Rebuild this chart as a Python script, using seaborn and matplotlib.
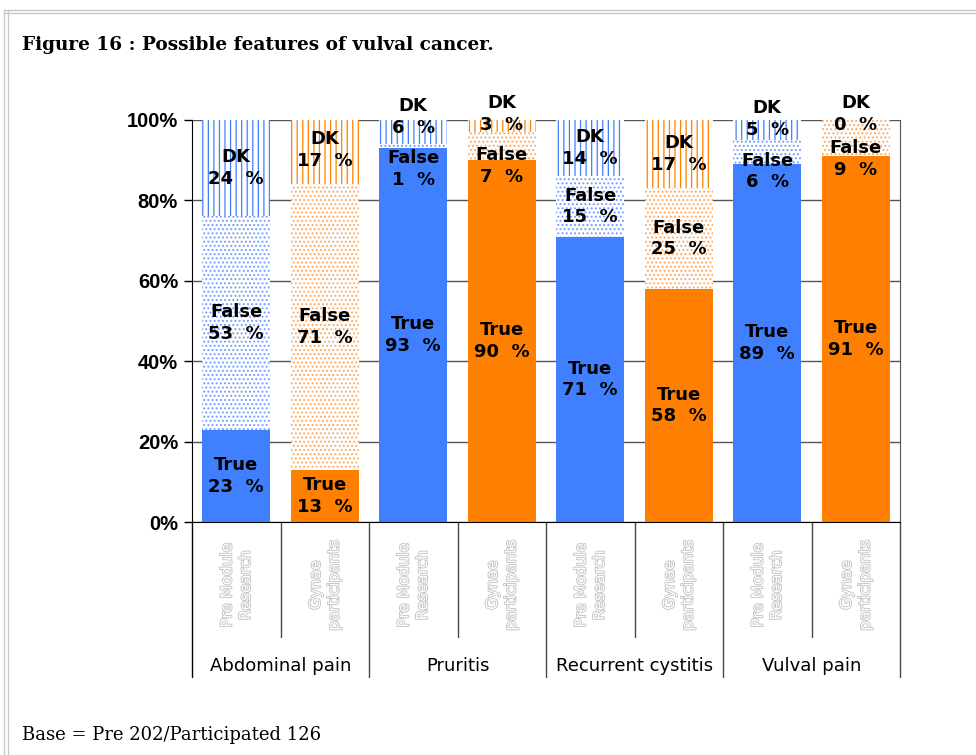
import numpy as np
import pandas as pd
import seaborn as sns
import matplotlib.pyplot as plt
import matplotlib.patheffects as pe
import matplotlib.transforms as mtransforms
from matplotlib.lines import Line2D

# Valores do gráfico
symptoms = ["Abdominal pain", "Pruritis", "Recurrent cystitis", "Vulval pain"]
groups = ["Pre Module\nResearch", "Gynae\nparticipants"]
true_pre = [23, 93, 71, 89]
false_pre = [53, 1, 15, 6]
dk_pre = [24, 6, 14, 5]
true_gyn = [13, 90, 58, 91]
false_gyn = [71, 7, 25, 9]
dk_gyn = [17, 3, 17, 0]

blue = "#4080ff"
orange = "#ff8000"
light = {groups[0]: "#729cff", groups[1]: "#ffa860"}

rows = []
for i, s in enumerate(symptoms):
    rows.append([s, groups[0], true_pre[i], false_pre[i], dk_pre[i]])
    rows.append([s, groups[1], true_gyn[i], false_gyn[i], dk_gyn[i]])
df = pd.DataFrame(rows, columns=["symptom", "group", "true", "false", "dk"])
df["bar"] = df["symptom"] + " / " + df["group"]
df["cum_false"] = df["true"] + df["false"]
df["cum_dk"] = df["cum_false"] + df["dk"]
order = df["bar"].tolist()

sns.set_style("white")
plt.rcParams["hatch.linewidth"] = 0.9
plt.rcParams["text.color"] = "black"
plt.rcParams["ytick.labelcolor"] = "black"

fig = plt.figure(figsize=(9.76, 7.55), dpi=100)
ax = fig.add_axes([192 / 976, 1 - 522 / 755, 708 / 976, 402 / 755])

pal = {groups[0]: blue, groups[1]: orange}
layers = [("cum_dk", "|||"), ("cum_false", "...."), ("true", None)]
for col, hatch in layers:
    n0 = len(ax.patches)
    sns.barplot(data=df, x="bar", y=col, hue="group", palette=pal, order=order,
                dodge=False, width=0.77, saturation=1, legend=False, ax=ax, zorder=2)
    for p in ax.patches[n0:]:
        idx = int(round(p.get_x() + p.get_width() / 2))
        g = df["group"].iloc[idx]
        p.set_linewidth(0)
        if hatch:
            p.set_facecolor("white")
            p.set_edgecolor(pal[g] if hatch == "|||" else light[g])
            p.set_hatch(hatch)

ax.set_xlim(-0.5, 7.5)
ax.set_ylim(0, 100)
ax.set_yticks([0, 20, 40, 60, 80, 100])
ax.set_yticklabels([f"{v}%" for v in range(0, 101, 20)],
                   fontweight="bold", fontsize=14.5, family="Liberation Sans")
ax.tick_params(axis="y", left=True, length=6, width=1, color="black", pad=4)
ax.set_xticks([])
ax.set_xlabel("")
ax.set_ylabel("")
ax.set_axisbelow(True)
ax.yaxis.grid(True, color="#555555", lw=1)
ax.spines["top"].set_visible(False)
ax.spines["left"].set_color("black")
ax.spines["bottom"].set_color("black")
ax.spines["right"].set_color("#555555")

# rótulos dentro das barras
gap = 13
for i, r in df.iterrows():
    t_mid = r["true"] / 2
    f_mid = r["true"] + r["false"] / 2
    d_mid = r["cum_false"] + r["dk"] / 2
    if d_mid - f_mid < gap:
        c = (f_mid + d_mid) / 2 - 1
        f_mid, d_mid = c - gap / 2, min(c + gap / 2, 101.5)
    kw = dict(ha="center", va="center", fontsize=13, fontweight="bold",
              linespacing=1.25, clip_on=False, zorder=5, color="black")
    ax.text(i, t_mid, f"True\n{r['true']}  %", **kw)
    ax.text(i, f_mid, f"False\n{r['false']}  %", **kw)
    ax.text(i, d_mid, f"DK\n{r['dk']}  %", **kw)

# tabela de categorias abaixo do eixo
trans = mtransforms.blended_transform_factory(ax.transData, ax.transAxes)
for i, r in df.iterrows():
    ax.text(i, -0.157, r["group"], transform=trans, rotation=90, ha="center",
            va="center", fontsize=11, color="white",
            linespacing=1.3, multialignment="center",
            path_effects=[pe.withStroke(linewidth=1.3, foreground="#c4c4c4")])
for k in range(7):
    x = k + 0.5
    low = -0.386 if k % 2 == 1 else -0.286
    ax.plot([x, x], [0, low], transform=trans, color="#4d4540", lw=1, clip_on=False)
for x in [-0.5, 7.5]:
    ax.plot([x, x], [0, -0.386], transform=trans,
            color="black" if x < 0 else "#4d4540", lw=1, clip_on=False)
for g, s in enumerate(symptoms):
    ax.text(2 * g + 0.5, -0.358, s, transform=trans, ha="center", va="center",
            fontsize=13, color="black")

# títulos e moldura
fig.text(22 / 976, 1 - 45 / 755, "Figure 16 : Possible features of vulval cancer.",
         family="DejaVu Serif", fontweight="bold", fontsize=13.3, va="center")
fig.text(22 / 976, 1 - 735 / 755, "Base = Pre 202/Participated 126",
         family="DejaVu Serif", fontsize=13, va="center")
for y in [10, 13]:
    fig.add_artist(Line2D([4 / 976, 1], [1 - y / 755] * 2, color="#c8c8c8", lw=1))
for x in [4, 8]:
    fig.add_artist(Line2D([x / 976] * 2, [1 - 10 / 755, 0], color="#c8c8c8", lw=1))

plt.savefig("out.png", dpi=100)
